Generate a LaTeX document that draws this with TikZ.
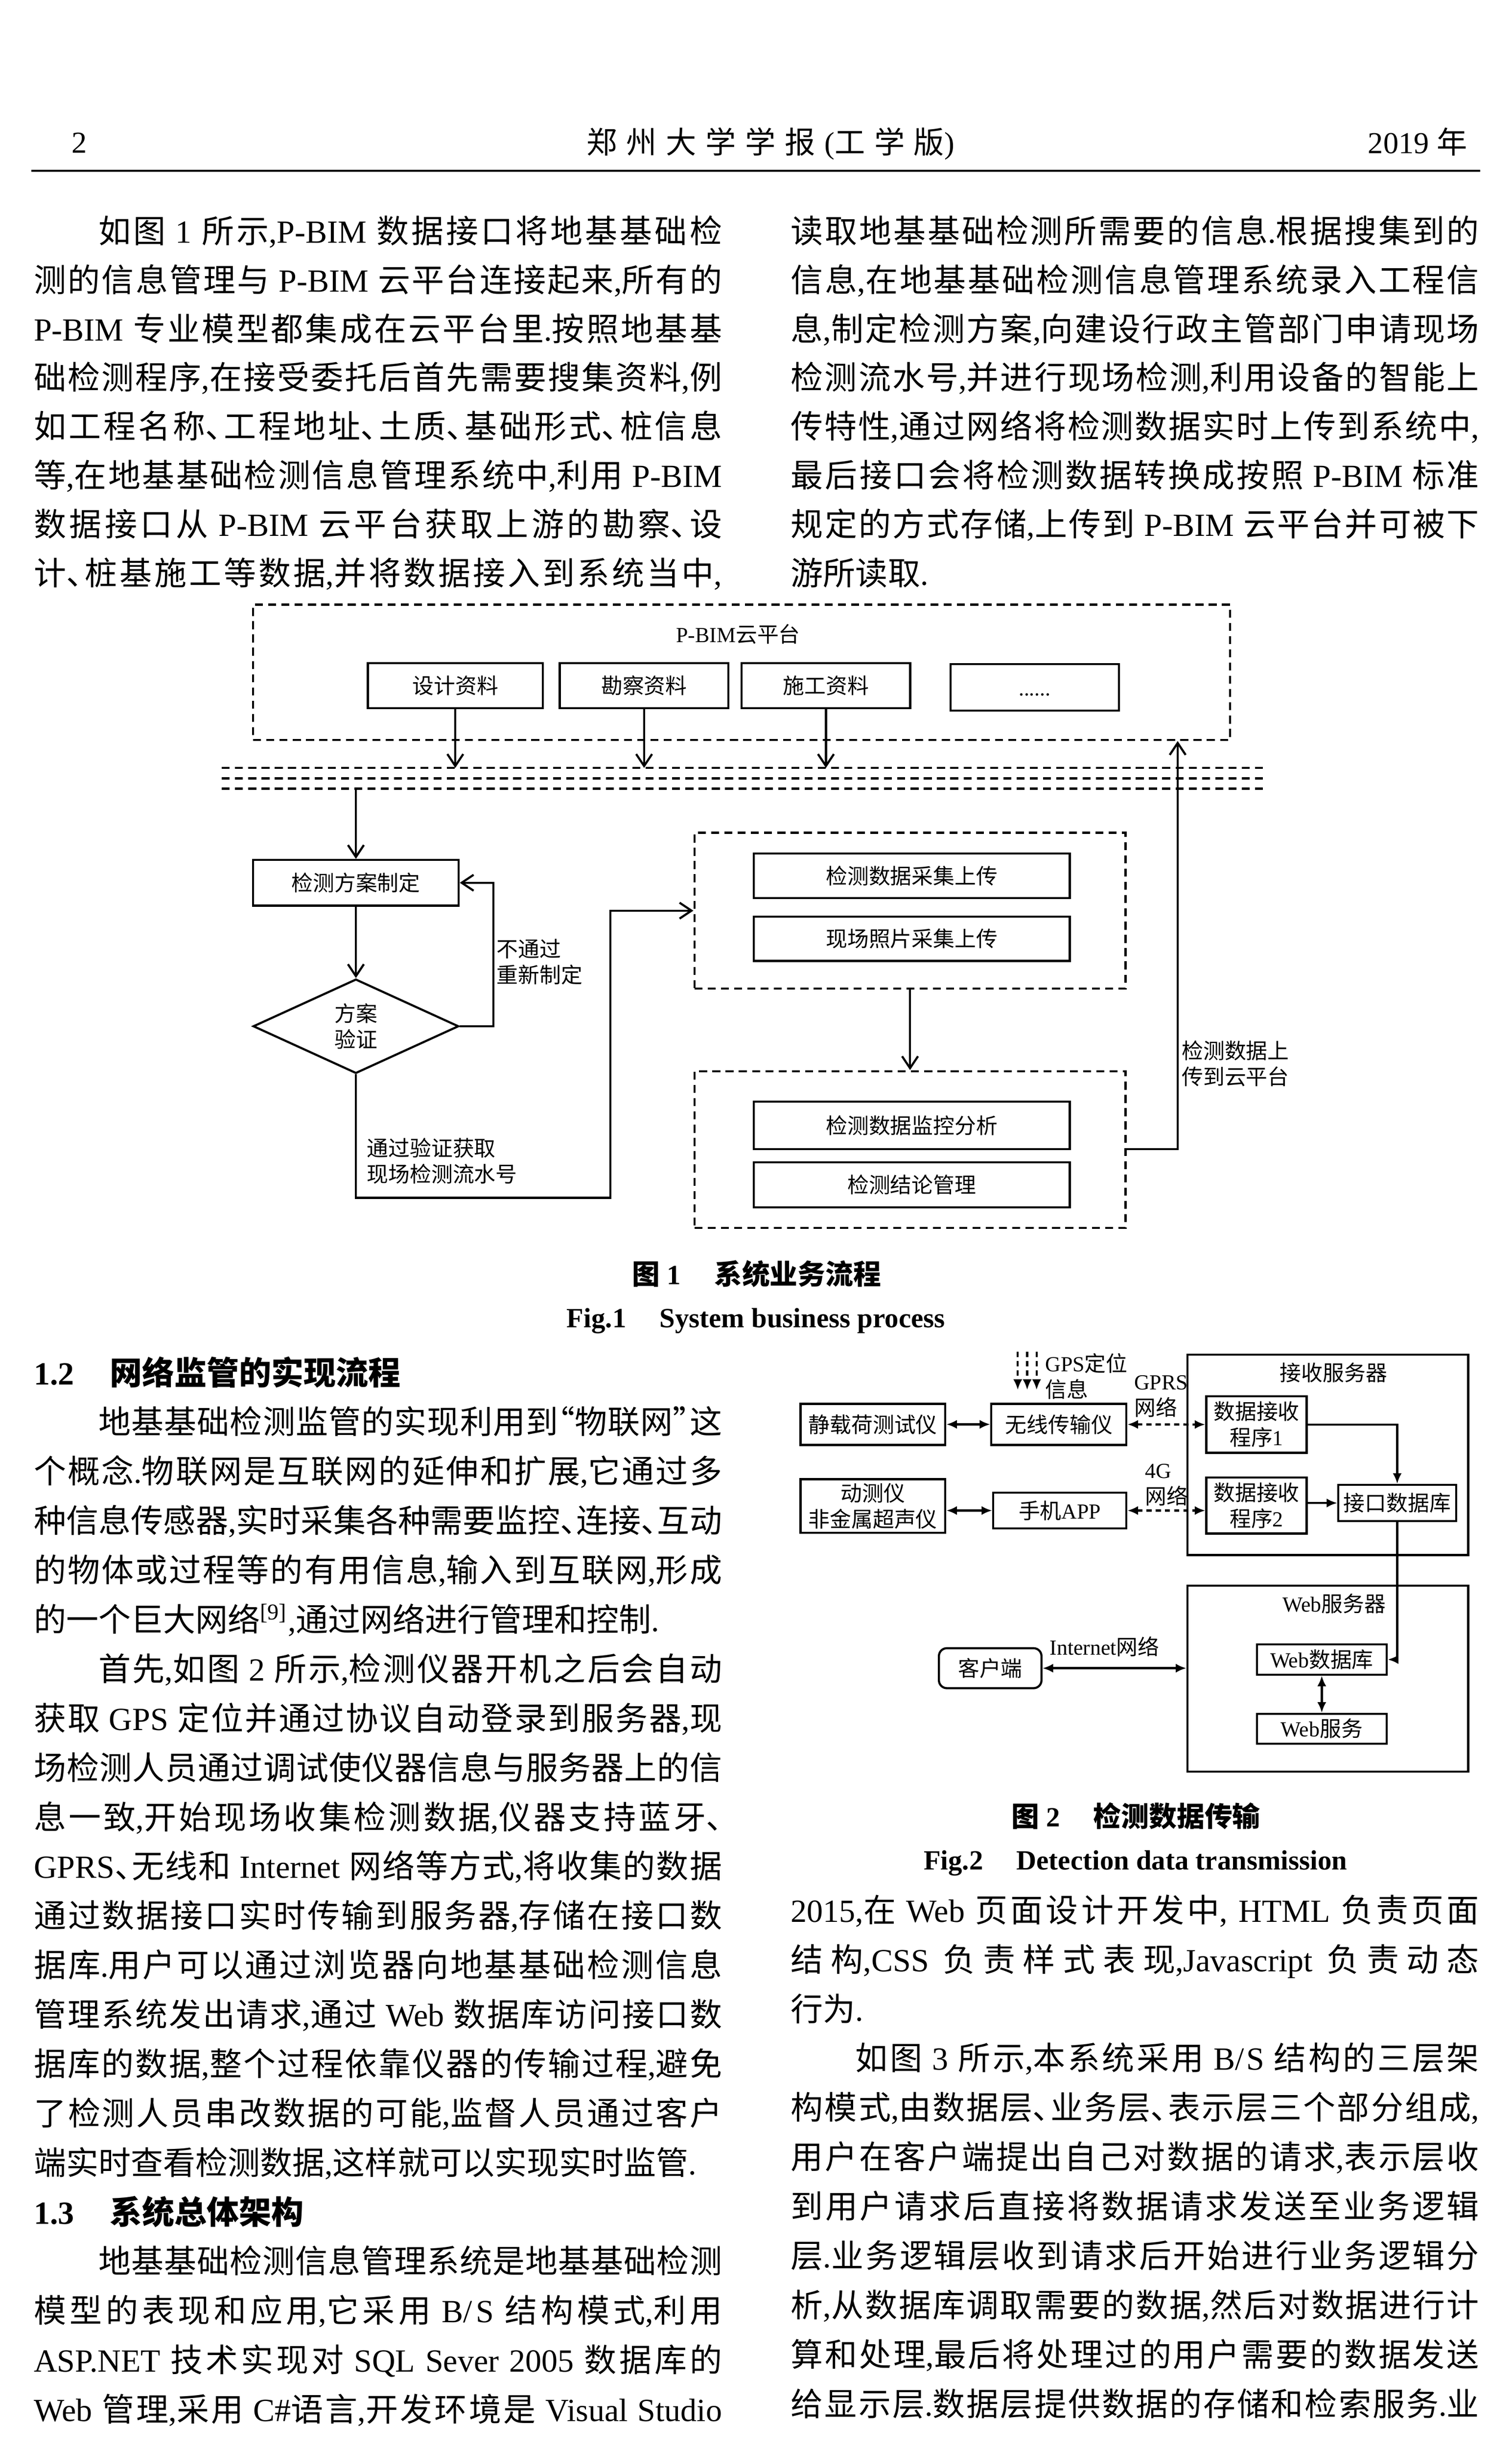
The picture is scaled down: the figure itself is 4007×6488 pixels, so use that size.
\documentclass[tikz,border=0pt]{standalone}
\usepackage{fontspec}
\setmainfont{Liberation Serif}[NFSSFamily=lserif]
\newfontfamily\cjkfont{Noto Sans CJK SC}[NFSSFamily=cjkfam,RawFeature=+halt]
\usetikzlibrary{positioning}
\usetikzlibrary{shapes.geometric}
\usetikzlibrary{arrows.meta}
\usetikzlibrary{calc}

% han characters (and their punctuation) are set in the cjk font
\newXeTeXintercharclass\hanclass
\newcount\hancode
\hancode="3000
\loop\XeTeXcharclass\hancode=\hanclass
  \advance\hancode by 1
\ifnum\hancode<"3040 \repeat
\hancode="4E00
\loop\XeTeXcharclass\hancode=\hanclass
  \advance\hancode by 1
\ifnum\hancode<"A000 \repeat
\XeTeXcharclass"201C=\hanclass
\XeTeXcharclass"201D=\hanclass
\newcommand\tohan{\fontfamily{cjkfam}\selectfont}
\newcommand\tolatin{\fontfamily{lserif}\selectfont}
\XeTeXinterchartoks 0 \hanclass = {\tohan}
\XeTeXinterchartoks 4095 \hanclass = {\tohan}
\XeTeXinterchartoks \hanclass 0 = {\tolatin}
\XeTeXinterchartoks \hanclass 4095 = {\tolatin}
\XeTeXinterchartokenstate=1
\XeTeXlinebreaklocale "zh"
\XeTeXlinebreakskip=0pt plus 2pt minus 0.3pt

\newcommand\topfont{\fontsize{12.2}{18.45}\selectfont}
\newcommand\lowfont{\fontsize{12.2}{18.64}\selectfont}
\newcommand\figfont{\fontsize{8.1}{9.8}\selectfont}
\newcommand\capfont{\fontsize{10.5}{12}\selectfont\bfseries}
\newcommand\headfont{\fontsize{11.5}{14}\selectfont}

\begin{document}
\begin{tikzpicture}[x=0.005cm,y=-0.005cm,line width=0.8pt,
    sz/.style 2 args={minimum width=#1*0.005cm,minimum height=#2*0.005cm},
    box/.style={draw,rectangle,inner sep=0pt,font=\figfont,align=center},
    grp/.style={draw,rectangle,inner sep=0pt,dash pattern=on 3pt off 2pt},
    bus/.style={dash pattern=on 3pt off 2pt},
    flow/.style={-{Straight Barb[length=4.5pt,width=6pt]}},
    lab/.style={font=\figfont,align=left,inner sep=0pt,anchor=west},
    tag/.style={font=\figfont,inner sep=0pt},
    dual/.style={{Latex[length=4pt,width=3.4pt]}-{Latex[length=4pt,width=3.4pt]}},
    one/.style={-{Latex[length=4pt,width=3.4pt]}},
    net/.style={dash pattern=on 2pt off 1.5pt},
    col/.style={anchor=base west,inner sep=0pt,text width=9.13cm,align=justify},
    figcap/.style={font=\capfont,inner sep=0pt,anchor=base}]
  \fill[white] (0,0) rectangle (4007,6488);
  \useasboundingbox (0,0) rectangle (4007,6488);

  % running head
  \node[anchor=base,inner sep=0pt,font=\headfont] (pg) at (210,405) {2};
  \node[anchor=base,inner sep=0pt,font=\headfont] (jn) at (2043,407) {郑\hspace{.3em}州\hspace{.3em}大\hspace{.3em}学\hspace{.3em}学\hspace{.3em}报\hspace{.3em}(工\hspace{.3em}学\hspace{.3em}版)};
  \node[anchor=base east,inner sep=0pt,font=\headfont] (yr) at (3892,407) {2019 年};
  \draw[line width=0.85pt] (83,453) -- (3924,453);

  % text above figure 1
  \node[col] (pa) at (87,644) {\topfont\parfillskip=0pt
\hspace*{2em}如图 1 所示,P-BIM 数据接口将地基基础检\linebreak
测的信息管理与 P-BIM 云平台连接起来,所有的\linebreak
P-BIM 专业模型都集成在云平台里.按照地基基\linebreak
础检测程序,在接受委托后首先需要搜集资料,例\linebreak
如工程名称、工程地址、土质、基础形式、桩信息\linebreak
等,在地基基础检测信息管理系统中,利用 P-BIM\linebreak
数据接口从 P-BIM 云平台获取上游的勘察、设\linebreak
计、桩基施工等数据,并将数据接入到系统当中,\par};
  \node[col] (pb) at (2094,644) {\topfont
读取地基基础检测所需要的信息.根据搜集到的\linebreak
信息,在地基基础检测信息管理系统录入工程信\linebreak
息,制定检测方案,向建设行政主管部门申请现场\linebreak
检测流水号,并进行现场检测,利用设备的智能上\linebreak
传特性,通过网络将检测数据实时上传到系统中,\linebreak
最后接口会将检测数据转换成按照 P-BIM 标准\linebreak
规定的方式存储,上传到 P-BIM 云平台并可被下\linebreak
游所读取.\par};

  % figure 1
  \node[grp,sz={2590}{359}] (cloud) at (1966,1782.5) {};
  \node[tag] (pbim) at (1957,1681) {P-BIM云平台};
  \node[box,sz={464}{120}] (sjzl) at (1207,1818) {设计资料};
  \node[box,sz={447}{120}] (kczl) at (1707.5,1818) {勘察资料};
  \node[box,sz={447}{120}] (sgzl) at (2189.5,1818) {施工资料};
  \node[box,sz={446}{123}] (more) at (2743,1822.5) {\vphantom{资}......};
  \coordinate (busa) at (588,2036);
  \coordinate (busb) at (588,2064);
  \coordinate (busc) at (588,2091);
  \foreach \b in {busa,busb,busc}
    \draw[bus] (\b) -- ++(2760,0);
  \foreach \n in {sjzl,kczl,sgzl}
    \draw[flow] (\n.south) -- (\n.south |- busa);

  \node[box,sz={545}{121}] (zd) at (943.5,2340.5) {检测方案制定};
  \node[box,diamond,sz={545}{250}] (yz) at (943.5,2721) {方案\\验证};
  \draw[flow] (zd.north |- busc) -- (zd.north);
  \draw[flow] (zd) -- (yz);
  \draw[flow] (yz.east) -- ++(89,0) |- (zd.east);
  \node[lab] (btg) at (1314,2550) {不通过\\重新制定};

  \node[grp,sz={1143}{413}] (cj) at (2412.5,2414.5) {};
  \node[box,sz={838}{118}] (cjsc) at (2417,2322) {检测数据采集上传};
  \node[box,sz={838}{118}] (zpsc) at (2417,2489) {现场照片采集上传};
  \coordinate (tg) at (1618,3176);
  \draw[flow] (yz.south) |- (tg) |- (cj.west);
  \node[lab] (tgl) at (970,3078) {通过验证获取\\现场检测流水号};

  \node[grp,sz={1143}{416}] (gl) at (2412.5,3048) {};
  \node[box,sz={838}{126}] (jkfx) at (2417,2984) {检测数据监控分析};
  \node[box,sz={838}{119}] (jlgl) at (2417,3141.5) {检测结论管理};
  \draw[flow] (cj.south) -- (gl.north);
  \coordinate (up) at (3122,3047);
  \draw[flow] (up -| gl.east) -- (up) -- (up |- cloud.south);
  \node[lab] (upl) at (3130,2820) {检测数据上\\传到云平台};

  \node[figcap] (c1) at (2006,3405) {图 1\hspace{1.2em}系统业务流程};
  \node[figcap] (f1) at (2004,3520) {Fig.1\hspace{1.2em}System business process};

  % left column below figure 1
  \node[col] (pc) at (87,3671) {\lowfont
{\bfseries 1.2\hspace{1.1em}网络监管的实现流程}\par
\hspace*{2em}地基基础检测监管的实现利用到“物联网”这\linebreak
个概念.物联网是互联网的延伸和扩展,它通过多\linebreak
种信息传感器,实时采集各种需要监控、连接、互动\linebreak
的物体或过程等的有用信息,输入到互联网,形成\linebreak
的一个巨大网络\textsuperscript{[9]},通过网络进行管理和控制.\par
\hspace*{2em}首先,如图 2 所示,检测仪器开机之后会自动\linebreak
获取 GPS 定位并通过协议自动登录到服务器,现\linebreak
场检测人员通过调试使仪器信息与服务器上的信\linebreak
息一致,开始现场收集检测数据,仪器支持蓝牙、\linebreak
GPRS、无线和 Internet 网络等方式,将收集的数据\linebreak
通过数据接口实时传输到服务器,存储在接口数\linebreak
据库.用户可以通过浏览器向地基基础检测信息\linebreak
管理系统发出请求,通过 Web 数据库访问接口数\linebreak
据库的数据,整个过程依靠仪器的传输过程,避免\linebreak
了检测人员串改数据的可能,监督人员通过客户\linebreak
端实时查看检测数据,这样就可以实现实时监管.\par
{\bfseries 1.3\hspace{1.1em}系统总体架构}\par
\hspace*{2em}地基基础检测信息管理系统是地基基础检测\linebreak
模型的表现和应用,它采用 B/S 结构模式,利用\linebreak
ASP.NET 技术实现对 SQL Sever 2005 数据库的\linebreak
Web 管理,采用 C\#语言,开发环境是 Visual Studio\parfillskip=0pt\par};

  % figure 2
  \node[box,sz={384}{109}] (jzh) at (2314,3776.5) {静载荷测试仪};
  \node[box,sz={358}{109}] (wx) at (2807,3776.5) {无线传输仪};
  \node[box,sz={384}{142}] (dc) at (2314,3993) {动测仪\\非金属超声仪};
  \node[box,sz={353}{94}] (app) at (2809.5,4005) {手机APP};
  \node[box,sz={744}{531}] (rs) at (3520,3857.5) {};
  \node[tag] (rsl) at (3535,3639) {接收服务器};
  \node[box,sz={266}{150}] (cx1) at (3331,3777) {数据接收\\程序1};
  \node[box,sz={266}{149}] (cx2) at (3331,3991.5) {数据接收\\程序2};
  \node[box,sz={312}{96}] (jk) at (3704,3985) {接口数据库};
  \node[box,sz={744}{493}] (ws) at (3520,4450.5) {};
  \node[tag] (wsl) at (3537,4252) {Web服务器};
  \node[box,sz={344}{80}] (wdb) at (3504,4400) {Web数据库};
  \node[box,sz={344}{79}] (wsv) at (3504,4583.5) {Web服务};
  \node[box,sz={272}{106},rounded corners=3pt] (kh) at (2625,4423) {客户端};

  \draw[dual] (jzh) -- (wx);
  \draw[dual,net] (wx) -- (cx1);
  \foreach \dx in {-109,-84,-59}
    \draw[one,net] ($(wx.north)+(\dx,-135)$) -- ($(wx.north)+(\dx,-34)$);
  \node[lab] (gps) at (2768,3649) {GPS定位\\信息};
  \node[lab] (gprs) at (3004,3702) {GPRS\\网络};
  \draw[dual] (dc.east |- app.west) -- (app.west);
  \draw[dual,net] (app.east) -- (app.east -| cx2.west);
  \node[lab] (g4) at (3033,3937) {4G\\网络};
  \draw[one] (cx1.east) -| (jk.north);
  \draw[one] (cx2.east |- jk.west) -- (jk.west);
  \draw[one] (jk.south) |- (wdb.east);
  \draw[dual] (wdb) -- (wsv);
  \draw[dual] (kh.east) -- (kh.east -| ws.west);
  \node[tag] (inet) at (2928,4366) {Internet网络};

  \node[figcap] (c2) at (3011,4843) {图 2\hspace{1.2em}检测数据传输};
  \node[figcap] (f2) at (3010,4958) {Fig.2\hspace{1.2em}Detection data transmission};

  % right column below figure 2
  \node[col] (pd) at (2094,5096) {\lowfont
2015,在 Web 页面设计开发中, HTML 负责页面\linebreak
结构,CSS 负责样式表现,Javascript 负责动态\linebreak
行为.\par
\hspace*{2em}如图 3 所示,本系统采用 B/S 结构的三层架\linebreak
构模式,由数据层、业务层、表示层三个部分组成,\linebreak
用户在客户端提出自己对数据的请求,表示层收\linebreak
到用户请求后直接将数据请求发送至业务逻辑\linebreak
层.业务逻辑层收到请求后开始进行业务逻辑分\linebreak
析,从数据库调取需要的数据,然后对数据进行计\linebreak
算和处理,最后将处理过的用户需要的数据发送\linebreak
给显示层.数据层提供数据的存储和检索服务.业\parfillskip=0pt\par};
\end{tikzpicture}
\end{document}
